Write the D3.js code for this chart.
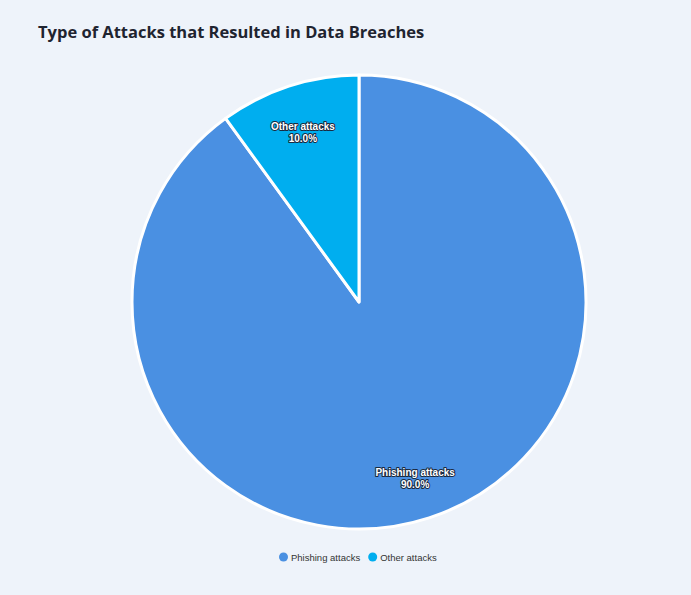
<!DOCTYPE html>
<html>
<head>
<meta charset="utf-8">
<script src="https://cdn.jsdelivr.net/npm/d3@7"></script>
<style>
  body { margin: 0; background: #eef3fa; }
  svg { display: block; }
</style>
</head>
<body>
<svg id="chart"></svg>
<script>
var categories = ["Phishing attacks", "Other attacks"];
var values = [90, 10];
var colors = ["#4a90e2", "#00aeef"];

document.addEventListener("DOMContentLoaded", () => {
  const width = 691, height = 595;
  const cx = 359, cy = 302, radius = 227;

  var svg = d3.select("#chart")
    .attr("width", width)
    .attr("height", height);

  svg.append("rect")
    .attr("width", width)
    .attr("height", height)
    .attr("fill", "#eef3fa");

  svg.append("text")
    .attr("x", 38)
    .attr("y", 38)
    .style("font-family", "'Open Sans', 'Noto Sans', sans-serif")
    .style("font-size", "16.5px")
    .style("font-weight", "bold")
    .style("fill", "#1f2430")
    .text("Type of Attacks that Resulted in Data Breaches");

  var data = categories.map((c, i) => ({ name: c, value: values[i], color: colors[i] }));
  var total = d3.sum(values);

  var pie = d3.pie().sort(null).value(d => d.value);
  var arc = d3.arc().innerRadius(0).outerRadius(radius);
  var labelArc = d3.arc().innerRadius(radius * 0.8).outerRadius(radius * 0.8);

  var g = svg.append("g").attr("transform", `translate(${cx},${cy})`);

  var slices = pie(data);

  g.selectAll("path")
    .data(slices)
    .enter().append("path")
    .attr("d", arc)
    .attr("fill", d => d.data.color)
    .attr("stroke", "#ffffff")
    .attr("stroke-width", 3)
    .attr("stroke-linejoin", "round");

  var labels = g.selectAll("text.lbl")
    .data(slices)
    .enter().append("text")
    .attr("class", "lbl")
    .attr("transform", d => `translate(${labelArc.centroid(d)})`)
    .attr("text-anchor", "middle")
    .style("font-family", "Arial, 'Liberation Sans', sans-serif")
    .style("font-size", "10px")
    .style("font-weight", "bold")
    .style("fill", "#ffffff")
    .style("paint-order", "stroke")
    .style("stroke", "#1a2a40")
    .style("stroke-width", "2px")
    .style("stroke-linejoin", "round");

  labels.append("tspan")
    .attr("x", 0)
    .attr("y", 1)
    .text(d => d.data.name);

  labels.append("tspan")
    .attr("x", 0)
    .attr("y", 13)
    .text(d => (d.data.value / total * 100).toFixed(1) + "%");

  // legend
  var legend = svg.append("g").attr("transform", "translate(279,557)");
  var xPos = 0;
  data.forEach(d => {
    var item = legend.append("g").attr("transform", `translate(${xPos},0)`);
    item.append("circle")
      .attr("cx", 4.5)
      .attr("cy", 0)
      .attr("r", 4.5)
      .attr("fill", d.color);
    var t = item.append("text")
      .attr("x", 12)
      .attr("y", 3.5)
      .style("font-family", "Arial, 'Liberation Sans', sans-serif")
      .style("font-size", "9.5px")
      .style("fill", "#333333")
      .text(d.name);
    xPos += 12 + t.node().getComputedTextLength() + 8;
  });
});
</script>
</body>
</html>
